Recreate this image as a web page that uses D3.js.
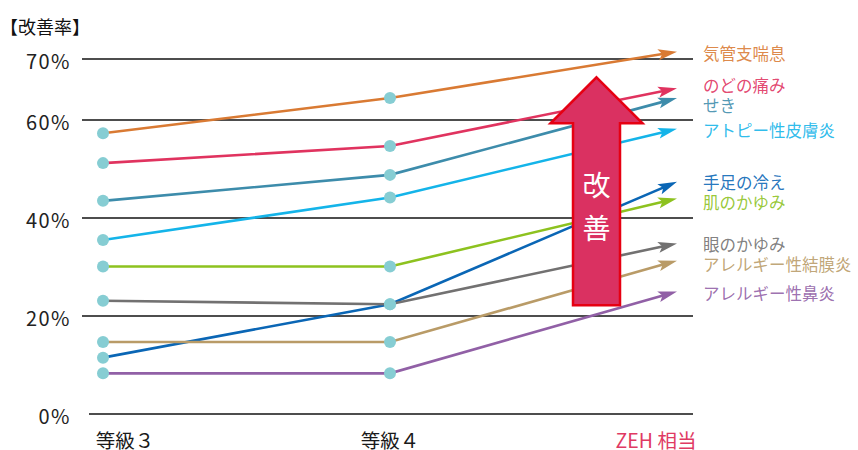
<!DOCTYPE html>
<html>
<head>
<meta charset="utf-8">
<script src="https://cdn.jsdelivr.net/npm/d3@7"></script>
<style>
    body { margin: 0; background: #fff; }
    svg text { font-family: "Noto Sans CJK JP", "Noto Sans", sans-serif; }
</style>
</head>
<body>
<div id="chart"></div>
<script>

var grades = ["等級３", "等級４", "ZEH 相当"];
var yTicks = [0, 20, 40, 60, 70];

var seriesNames = ["気管支喘息", "のどの痛み", "せき", "アトピー性皮膚炎", "手足の冷え",
    "肌のかゆみ", "眼のかゆみ", "アレルギー性結膜炎", "アレルギー性鼻炎"];

var seriesValues = [
    [57.3, 63.6, 71.2],
    [51.2, 54.7, 65.2],
    [43.5, 48.8, 63.6],
    [35.5, 44.2, 58.2],
    [11.5, 22.4, 47.4],
    [30.1, 30.1, 44.0],
    [23.1, 22.4, 34.8],
    [14.7, 14.7, 31.3],
    [8.3, 8.3, 25.0]
];

var seriesColors = ["#d97a33", "#e0335f", "#3d8cab", "#14b4e9", "#0a66b5",
    "#8dc21f", "#727171", "#b99b67", "#9160a6"];

// big "improvement" arrow, from / to (percent)
var improveRange = [22.2, 67];
var improveText = ["改", "善"];

var Chart = function () {

    var width = 858,
        height = 450,
        gridLeft = 82,
        gridRight = 693;

    var xScale = d3.scalePoint()
        .domain(grades)
        .range([103, 677]);

    // the top band (60-70) is drawn shorter than the rest
    var yScale = d3.scaleLinear()
        .domain([0, 60, 70])
        .range([414, 120, 59]);

    this.init = function () {
        var svg = d3.select("#chart")
            .append("svg")
            .attr("width", width)
            .attr("height", height);

        // title
        svg.append("text")
            .attr("x", 0)
            .attr("y", 26)
            .attr("dominant-baseline", "central")
            .style("font-size", "18px")
            .style("fill", "#111")
            .text("【改善率】");

        // grid + y labels
        var grid = svg.append("g").attr("class", "grid");
        grid.selectAll("line")
            .data(yTicks)
            .enter()
            .append("line")
            .attr("x1", function (d) { return d === 0 ? gridLeft + 7 : gridLeft; })
            .attr("x2", gridRight)
            .attr("y1", function (d) { return yScale(d); })
            .attr("y2", function (d) { return yScale(d); })
            .style("stroke", "#4d4d4d")
            .style("stroke-width", 2);

        grid.selectAll("text")
            .data(yTicks)
            .enter()
            .append("text")
            .attr("x", 71)
            .attr("y", function (d) { return yScale(d) + 1; })
            .attr("text-anchor", "end")
            .attr("dominant-baseline", "central")
            .style("font-size", "20px")
            .style("letter-spacing", "1.5px")
            .style("fill", "#222")
            .text(function (d) { return d + "%"; });

        // x labels
        var xNudge = [22, 0, -21];
        svg.append("g").selectAll("text")
            .data(grades)
            .enter()
            .append("text")
            .attr("x", function (d, i) { return xScale(d) + xNudge[i]; })
            .attr("y", 439)
            .attr("text-anchor", "middle")
            .attr("dominant-baseline", "central")
            .style("font-size", "19.5px")
            .style("fill", function (d, i) { return i === 2 ? "#e03a63" : "#1a1a1a"; })
            .text(function (d) { return d; });

        var series = seriesNames.map(function (name, i) {
            return {
                name: name,
                color: seriesColors[i],
                points: seriesValues[i].map(function (v, j) {
                    return [xScale(grades[j]), yScale(v)];
                })
            };
        });

        // lines with arrow heads
        var headLen = 19, headHalf = 5.5;
        var lines = svg.append("g").attr("class", "series");
        series.forEach(function (s) {
            var p = s.points,
                a = p[p.length - 2],
                b = p[p.length - 1],
                ang = Math.atan2(b[1] - a[1], b[0] - a[0]),
                cos = Math.cos(ang),
                sin = Math.sin(ang);
            var pts = p.slice(0, -1).concat([[b[0] - cos * 10, b[1] - sin * 10]]);

            lines.append("path")
                .attr("d", d3.line()(pts))
                .style("fill", "none")
                .style("stroke", s.color)
                .style("stroke-width", 2.6);

            var bx = b[0] - cos * headLen,
                by = b[1] - sin * headLen;
            lines.append("path")
                .attr("d", "M" + b[0] + "," + b[1] +
                    "L" + (bx - sin * headHalf) + "," + (by + cos * headHalf) +
                    "L" + (bx + cos * 4) + "," + (by + sin * 4) +
                    "L" + (bx + sin * headHalf) + "," + (by - cos * headHalf) + "Z")
                .style("fill", s.color);
        });

        // dots (only the two measured grades)
        var dots = [];
        series.forEach(function (s) {
            dots.push(s.points[0], s.points[1]);
        });
        svg.append("g").selectAll("circle")
            .data(dots)
            .enter()
            .append("circle")
            .attr("cx", function (d) { return d[0]; })
            .attr("cy", function (d) { return d[1]; })
            .attr("r", 6)
            .style("fill", "#86cdd3");

        // improvement arrow
        var cx = (xScale(grades[1]) + xScale(grades[2])) / 2 + 63,
            yTop = yScale(improveRange[1]),
            yBottom = yScale(improveRange[0]),
            headBase = yTop + 46,
            headW = 46,
            shaftW = 23.5;
        var arrow = svg.append("g").attr("class", "improve");
        arrow.append("path")
            .attr("d", "M" + cx + "," + yTop +
                "L" + (cx + headW) + "," + headBase +
                "L" + (cx + shaftW) + "," + headBase +
                "L" + (cx + shaftW) + "," + yBottom +
                "L" + (cx - shaftW) + "," + yBottom +
                "L" + (cx - shaftW) + "," + headBase +
                "L" + (cx - headW) + "," + headBase + "Z")
            .style("fill", "#da3161")
            .style("stroke", "#e60012")
            .style("stroke-width", 2.5)
            .style("stroke-linejoin", "miter");

        arrow.selectAll("text")
            .data(improveText)
            .enter()
            .append("text")
            .attr("x", cx)
            .attr("y", function (d, i) { return 184 + i * 43; })
            .attr("text-anchor", "middle")
            .attr("dominant-baseline", "central")
            .style("font-size", "28px")
            .style("fill", "#fff")
            .text(function (d) { return d; });

        // series labels, pushed apart so they don't collide
        var labelY = series.map(function (s) { return s.points[2][1]; });
        var gap = 20;
        for (var iter = 0; iter < 20; iter++) {
            for (var k = 1; k < labelY.length; k++) {
                var diff = labelY[k] - labelY[k - 1];
                if (diff < gap) {
                    var shift = (gap - diff) / 2;
                    labelY[k - 1] -= shift;
                    labelY[k] += shift;
                }
            }
        }

        svg.append("g").selectAll("text")
            .data(series)
            .enter()
            .append("text")
            .attr("x", xScale(grades[2]) + 26)
            .attr("y", function (d, i) { return labelY[i] + 1.5; })
            .attr("dominant-baseline", "central")
            .style("font-size", "16.5px")
            .style("fill", function (d) { return d.color; })
            .style("fill-opacity", 0.9)
            .text(function (d) { return d.name; });
    };
};

var chart = new Chart();
chart.init();

</script>
</body>
</html>
